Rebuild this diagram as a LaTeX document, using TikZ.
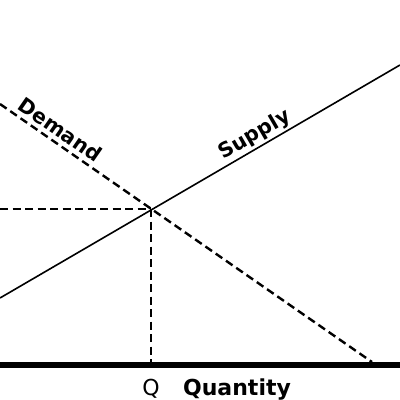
\documentclass[tikz,border=0pt]{standalone}
\usepackage{fontspec}
\setmainfont{DejaVu Sans}
\usetikzlibrary{positioning}

\tikzset{
  curve/.style={line width=1.6pt},
  guide/.style={line width=2.4pt, dash pattern=on 8pt off 4.5pt},
  axisline/.style={line width=6pt},
  curvelabel/.style={font=\fontsize{20.5}{24}\selectfont\bfseries},
  axislabel/.style={font=\fontsize{22}{26}\selectfont, anchor=base},
}

\begin{document}
\begin{tikzpicture}[x=1pt,y=-1pt]
  \useasboundingbox (0,0) rectangle (400,400);
  \coordinate (s0) at (0,298) ; % supply ends
  \coordinate (s1) at (400,65) ;
  \coordinate (d0) at (0,104) ; % demand ends
  \coordinate (d1) at (372,362) ;
  \coordinate (eq) at (151,209) ; %
  \coordinate (p0) at (0,209) ; %
  \coordinate (q0) at (151,362) ; %
  \coordinate (a0) at (0,365) ; %
  \coordinate (a1) at (400,365) ; %

  \draw[curve] (s0) -- (s1);
  \draw[guide] (d0) -- (d1);
  \draw[guide] (p0) -- (eq);
  \draw[guide] (eq) -- (q0);
  \draw[axisline] (a0) -- (a1);

  \node[curvelabel, rotate=-34.8] (demand) at (60.5,129.5) {Demand} ; %
  \node[curvelabel, rotate=30.2] (supply) at (255,135) {Supply} ; %
  \node[axislabel] (q) at (151,395) {Q} ; %
  \node[axislabel, font=\fontsize{22}{26}\selectfont\bfseries] (quantity) at (237,395) {Quantity} ; %
\end{tikzpicture}
\end{document}
